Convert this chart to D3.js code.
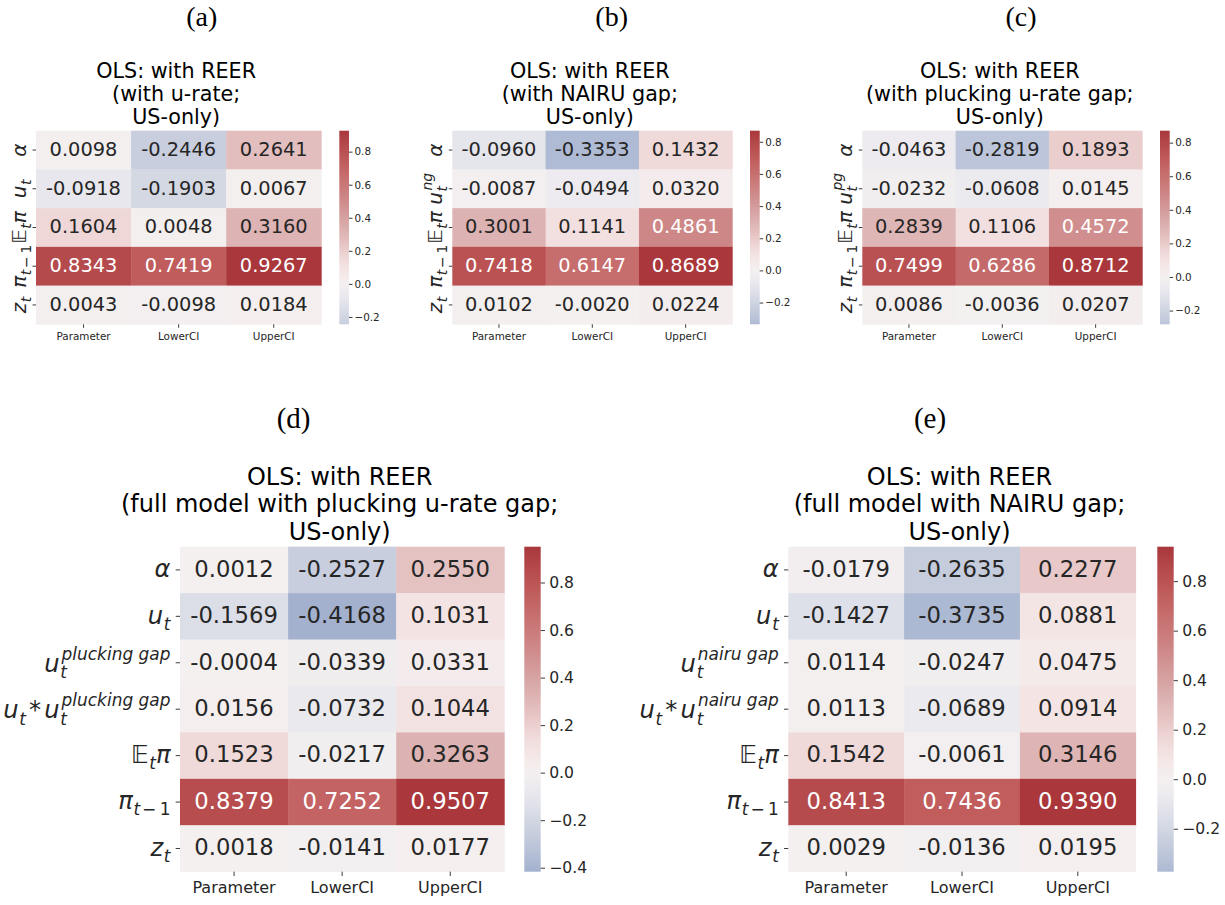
<!DOCTYPE html>
<html>
<head>
<meta charset="utf-8">
<script src="https://cdn.jsdelivr.net/npm/d3@7"></script>
<style>
  html, body { margin: 0; padding: 0; background: #ffffff; }
  svg { display: block; font-family: "DejaVu Sans", sans-serif; }
</style>
</head>
<body>
<svg id="fig" width="1225" height="905"></svg>
<script>
// ---- data -------------------------------------------------------------
const columns = ["Parameter", "LowerCI", "UpperCI"];

const panelLetters = ["(a)", "(b)", "(c)", "(d)", "(e)"];

const titleA = ["OLS: with REER", "(with u-rate;", "US-only)"];
const titleB = ["OLS: with REER", "(with NAIRU gap;", "US-only)"];
const titleC = ["OLS: with REER", "(with plucking u-rate gap;", "US-only)"];
const titleD = ["OLS: with REER", "(full model with plucking u-rate gap;", "US-only)"];
const titleE = ["OLS: with REER", "(full model with NAIRU gap;", "US-only)"];

// row labels in a small TeX-like notation: _x / _{..} subscripts, ^{..} superscripts
const rowsA = ["α", "u_t", "𝔼_tπ", "π_{t−1}", "z_t"];
const rowsB = ["α", "u_t^{ng}", "𝔼_tπ", "π_{t−1}", "z_t"];
const rowsC = ["α", "u_t^{pg}", "𝔼_tπ", "π_{t−1}", "z_t"];
const rowsD = ["α", "u_t", "u_t^{plucking gap}", "u_t*u_t^{plucking gap}", "𝔼_tπ", "π_{t−1}", "z_t"];
const rowsE = ["α", "u_t", "u_t^{nairu gap}", "u_t*u_t^{nairu gap}", "𝔼_tπ", "π_{t−1}", "z_t"];

// estimates: Parameter, LowerCI, UpperCI per row
const valuesA = [
  [0.0098, -0.2446, 0.2641],
  [-0.0918, -0.1903, 0.0067],
  [0.1604, 0.0048, 0.3160],
  [0.8343, 0.7419, 0.9267],
  [0.0043, -0.0098, 0.0184]
];
const valuesB = [
  [-0.0960, -0.3353, 0.1432],
  [-0.0087, -0.0494, 0.0320],
  [0.3001, 0.1141, 0.4861],
  [0.7418, 0.6147, 0.8689],
  [0.0102, -0.0020, 0.0224]
];
const valuesC = [
  [-0.0463, -0.2819, 0.1893],
  [-0.0232, -0.0608, 0.0145],
  [0.2839, 0.1106, 0.4572],
  [0.7499, 0.6286, 0.8712],
  [0.0086, -0.0036, 0.0207]
];
const valuesD = [
  [0.0012, -0.2527, 0.2550],
  [-0.1569, -0.4168, 0.1031],
  [-0.0004, -0.0339, 0.0331],
  [0.0156, -0.0732, 0.1044],
  [0.1523, -0.0217, 0.3263],
  [0.8379, 0.7252, 0.9507],
  [0.0018, -0.0141, 0.0177]
];
const valuesE = [
  [-0.0179, -0.2635, 0.2277],
  [-0.1427, -0.3735, 0.0881],
  [0.0114, -0.0247, 0.0475],
  [0.0113, -0.0689, 0.0914],
  [0.1542, -0.0061, 0.3146],
  [0.8413, 0.7436, 0.9390],
  [0.0029, -0.0136, 0.0195]
];

const cbarTicksA = [-0.2, 0.0, 0.2, 0.4, 0.6, 0.8];
const cbarTicksB = [-0.2, 0.0, 0.2, 0.4, 0.6, 0.8];
const cbarTicksC = [-0.2, 0.0, 0.2, 0.4, 0.6, 0.8];
const cbarTicksD = [-0.4, -0.2, 0.0, 0.2, 0.4, 0.6, 0.8];
const cbarTicksE = [-0.2, 0.0, 0.2, 0.4, 0.6, 0.8];

// ---- diverging blue / light / red colour ramp (vlag-like) -------------
const rampPos = [0, 0.1, 0.2, 0.28, 0.33, 0.37, 0.42, 0.46, 0.5, 0.55, 0.59, 0.64, 0.68, 0.78, 0.85, 0.9, 0.95, 1];
const rampCol = ["#2369bd", "#5080c3", "#7f98cb", "#a3b1cf", "#b9c3d8", "#c9cfde", "#dddfe8", "#eae9ee",
                 "#f4f0f0", "#f4e4e4", "#eed6d6", "#e4bfbf", "#dbafaf", "#ce8787", "#c76e6e", "#c05c5c",
                 "#b54a4c", "#a9373b"];
const ramp = d3.scaleLinear().domain(rampPos).range(rampCol).interpolate(d3.interpolateRgb).clamp(true);

function luminance(c) {
  const rgb = d3.rgb(c);
  const lin = v => { v /= 255; return v <= 0.03928 ? v / 12.92 : Math.pow((v + 0.055) / 1.055, 2.4); };
  return 0.2126 * lin(rgb.r) + 0.7152 * lin(rgb.g) + 0.0722 * lin(rgb.b);
}

// ---- panel geometry ---------------------------------------------------
const small = { y0: 130.7, y1: 324.3, fs: 19.4, lfs: 20, titleFs: 20.7, tfs: 10.4, letterY: 26, letterFs: 28,
                titleY: 78.2, lh: 23.1, rotate: true, tick: 3.5, cbarGap: 4.5, xlabGap: 15.2, cbw: 9.7 };
const large = { y0: 546.7, y1: 871.7, fs: 22.7, lfs: 24.2, titleFs: 24, tfs: 15.6, xfs: 16, letterY: 428, letterFs: 29,
                titleY: 485, lh: 27.4, rotate: false, tick: 4.3, cbarGap: 7.5, xlabGap: 21.7, cbw: 16.4 };

const panels = [
  Object.assign({}, small, { x0: 36, x1: 321.3, cx: 339.3, letterX: 201.7, title: titleA, rows: rowsA, values: valuesA, ticks: cbarTicksA }),
  Object.assign({}, small, { x0: 452.3, x1: 732.3, cx: 750.0, letterX: 611.7, title: titleB, rows: rowsB, values: valuesB, ticks: cbarTicksB }),
  Object.assign({}, small, { x0: 862.3, x1: 1142.3, cx: 1160.0, letterX: 1021, title: titleC, rows: rowsC, values: valuesC, ticks: cbarTicksC }),
  Object.assign({}, large, { x0: 180, x1: 504.3, cx: 524.3, letterX: 293.6, title: titleD, rows: rowsD, values: valuesD, ticks: cbarTicksD }),
  Object.assign({}, large, { x0: 788.3, x1: 1135.7, cx: 1157.3, letterX: 930, title: titleE, rows: rowsE, values: valuesE, ticks: cbarTicksE })
];

const svg = d3.select("#fig");
const defs = svg.append("defs");
const ink = "#262626";

// ---- math-ish label layout -------------------------------------------
function parseMath(src) {
  const chars = Array.from(src);
  const atoms = [];
  let i = 0;
  const readGroup = () => {
    if (chars[i] === "{") {
      let j = i + 1, s = "";
      while (j < chars.length && chars[j] !== "}") { s += chars[j]; j++; }
      i = j + 1;
      return s;
    }
    const s = chars[i]; i++; return s;
  };
  while (i < chars.length) {
    const c = chars[i];
    if (c === "_") { i++; atoms[atoms.length - 1].sub = readGroup(); continue; }
    if (c === "^") { i++; atoms[atoms.length - 1].sup = readGroup(); continue; }
    atoms.push({ base: c, op: c === "*" });
    i++;
  }
  return atoms;
}

function isLetter(ch) { return /[A-Za-zα-ω𝔼]/u.test(ch); }

// writes a run of characters, italic for letters, upright otherwise
function writeRun(g, str, x, y, size) {
  let cx = x;
  Array.from(str).forEach(ch => {
    if (ch === " ") { cx += size * 0.32; return; }
    const op = ch === "−";
    if (op) cx += size * 0.12;
    const t = g.append("text").attr("x", cx).attr("y", y)
      .attr("font-size", size)
      .attr("font-style", isLetter(ch) ? "italic" : "normal")
      .attr("fill", ink)
      .text(ch);
    cx += t.node().getComputedTextLength();
    if (op) cx += size * 0.2;
  });
  return cx;
}

function mathLabel(g, src, size) {
  const atoms = parseMath(src);
  let x = 0;
  const sub = size * 0.7;
  atoms.forEach(a => {
    if (a.op) {
      x += size * 0.13;
      x = writeRun(g, "*", x, 0, size);
      x += size * 0.13;
      return;
    }
    const after = writeRun(g, a.base, x, 0, size);
    let end = after;
    if (a.sub) end = Math.max(end, writeRun(g, a.sub, after + size * 0.03, size * 0.25, sub));
    if (a.sup) end = Math.max(end, writeRun(g, a.sup, after + size * 0.08, -size * 0.5, sub));
    x = end;
  });
  return x;
}

// ---- draw -------------------------------------------------------------
panels.forEach((p, pi) => {
  const g = svg.append("g");
  const rowKeys = p.rows.map((_, i) => i);

  const x = d3.scaleBand().domain(columns).range([p.x0, p.x1]).padding(0);
  const y = d3.scaleBand().domain(rowKeys).range([p.y0, p.y1]).padding(0);

  const flat = p.values.flat();
  const vmin = d3.min(flat), vmax = d3.max(flat);
  const vr = Math.max(Math.abs(vmin), Math.abs(vmax));
  const color = v => ramp((v + vr) / (2 * vr));

  // panel letter
  g.append("text")
    .attr("x", p.letterX).attr("y", p.letterY)
    .attr("text-anchor", "middle")
    .attr("font-family", "'Liberation Serif', 'DejaVu Serif', serif")
    .attr("font-size", p.letterFs)
    .attr("fill", "#000")
    .text(panelLetters[pi]);

  // title
  const tx = (p.x0 + p.x1) / 2 - 2.5;
  p.title.forEach((line, li) => {
    g.append("text")
      .attr("x", tx).attr("y", p.titleY + li * p.lh)
      .attr("text-anchor", "middle")
      .attr("font-size", p.titleFs)
      .attr("fill", "#000")
      .text(line);
  });

  // cells
  const cells = [];
  p.values.forEach((row, ri) => row.forEach((v, ci) => cells.push({ r: ri, c: columns[ci], v })));
  g.selectAll("rect.cell").data(cells).enter().append("rect")
    .attr("class", "cell")
    .attr("x", d => x(d.c))
    .attr("y", d => y(d.r))
    .attr("width", x.bandwidth() + 0.4)
    .attr("height", y.bandwidth() + 0.4)
    .attr("fill", d => color(d.v));

  g.selectAll("text.annot").data(cells).enter().append("text")
    .attr("class", "annot")
    .attr("x", d => x(d.c) + x.bandwidth() / 2)
    .attr("y", d => y(d.r) + y.bandwidth() / 2 + p.fs * 0.3)
    .attr("text-anchor", "middle")
    .attr("font-size", p.fs)
    .attr("fill", d => luminance(color(d.v)) > 0.408 ? ink : "#ffffff")
    .text(d => d.v.toFixed(4));

  // x ticks and labels
  columns.forEach(c => {
    const cx = x(c) + x.bandwidth() / 2;
    g.append("line").attr("x1", cx).attr("x2", cx)
      .attr("y1", p.y1).attr("y2", p.y1 + p.tick)
      .attr("stroke", ink).attr("stroke-width", 0.9);
    g.append("text").attr("x", cx).attr("y", p.y1 + p.xlabGap)
      .attr("text-anchor", "middle")
      .attr("font-size", p.xfs || p.tfs)
      .attr("fill", ink)
      .text(c);
  });

  // y ticks and math labels
  rowKeys.forEach(ri => {
    const cy = y(ri) + y.bandwidth() / 2;
    g.append("line").attr("x1", p.x0 - p.tick).attr("x2", p.x0)
      .attr("y1", cy).attr("y2", cy)
      .attr("stroke", ink).attr("stroke-width", 0.9);
    const lg = g.append("g");
    const w = mathLabel(lg, p.rows[ri], p.lfs);
    if (p.rotate) {
      // reads bottom-to-top, centred on the row, baseline just left of the tick
      lg.attr("transform", `translate(${p.x0 - 10.5},${cy + w / 2}) rotate(-90)`);
    } else {
      const bump = p.rows[ri].includes("^") ? 2 : 0;
      lg.attr("transform", `translate(${p.x0 - 9.5 - w},${cy + p.lfs * 0.3 + bump})`);
    }
  });

  // colour bar
  const gid = "cbar" + pi;
  const grad = defs.append("linearGradient").attr("id", gid)
    .attr("x1", 0).attr("y1", 1).attr("x2", 0).attr("y2", 0);
  d3.range(0, 1.0001, 1 / 60).forEach(f => {
    const v = vmin + f * (vmax - vmin);
    grad.append("stop").attr("offset", f).attr("stop-color", color(v));
  });
  const cbScale = d3.scaleLinear().domain([vmin, vmax]).range([p.y1, p.y0]);
  g.append("rect")
    .attr("x", p.cx).attr("y", p.y0)
    .attr("width", p.cbw).attr("height", p.y1 - p.y0)
    .attr("fill", `url(#${gid})`);

  const axis = d3.axisRight(cbScale)
    .tickValues(p.ticks)
    .tickSize(p.tick)
    .tickPadding(p.cbarGap - p.tick + 1)
    .tickFormat(d => d3.format(".1f")(d).replace("-", "−"));
  const ax = g.append("g")
    .attr("transform", `translate(${p.cx + p.cbw},0)`)
    .call(axis);
  ax.select(".domain").remove();
  ax.selectAll(".tick line").attr("stroke", ink).attr("stroke-width", 0.9);
  ax.selectAll(".tick text")
    .attr("font-size", p.tfs)
    .attr("font-family", "'DejaVu Sans', sans-serif")
    .attr("fill", ink);
});
</script>
</body>
</html>
